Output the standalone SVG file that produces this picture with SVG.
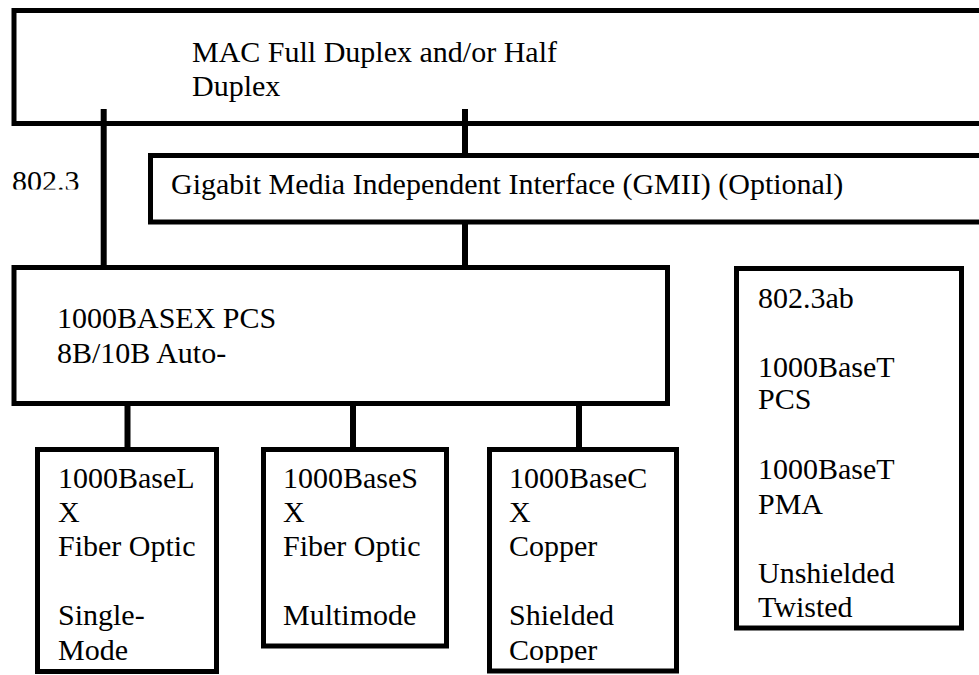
<svg xmlns="http://www.w3.org/2000/svg" width="979" height="675" viewBox="0 0 979 675">
<style>
.box{fill:#fff;stroke:#000;stroke-width:5}
.t{font-family:"Liberation Serif","Times New Roman",serif;font-size:30px;fill:#000}
.c{stroke:#000;stroke-width:6;fill:none}
</style>
<defs>
<clipPath id="clip8023"><rect x="0" y="150" width="100" height="39.5"/></clipPath>
<clipPath id="clipCX"><rect x="492" y="452" width="182" height="211"/></clipPath>
</defs>
<rect width="979" height="675" fill="#fff"/>
<g id="mac">
<rect class="box" x="14" y="10.5" width="1000" height="113"/>
<text class="t" x="192" y="62">MAC Full Duplex and/or Half</text>
<text class="t" x="192" y="96">Duplex</text>
</g>
<g id="label8023">
<text class="t" x="12" y="191" clip-path="url(#clip8023)">802.3</text>
</g>
<g id="gmii">
<rect class="box" x="150.5" y="155.5" width="900" height="66.5"/>
<text class="t" x="171" y="194">Gigabit Media Independent Interface (GMII) (Optional)</text>
</g>
<g id="pcs">
<rect class="box" x="14" y="267.5" width="653.5" height="136"/>
<text class="t" x="57" y="328">1000BASEX PCS</text>
<text class="t" x="57" y="363">8B/10B Auto-</text>
</g>
<g id="lx">
<rect class="box" x="37.5" y="449.5" width="179" height="222"/>
<text class="t" x="58" y="488">1000BaseL</text>
<text class="t" x="58" y="522">X</text>
<text class="t" x="58" y="556">Fiber Optic</text>
<text class="t" x="58" y="625">Single-</text>
<text class="t" x="58" y="660">Mode</text>
</g>
<g id="sx">
<rect class="box" x="263.5" y="449.5" width="183" height="196.5"/>
<text class="t" x="283" y="488">1000BaseS</text>
<text class="t" x="283" y="522">X</text>
<text class="t" x="283" y="556">Fiber Optic</text>
<text class="t" x="283" y="625">Multimode</text>
</g>
<g id="cx">
<rect class="box" x="489.5" y="449.5" width="187" height="221.5"/>
<text class="t" x="509" y="488">1000BaseC</text>
<text class="t" x="509" y="522">X</text>
<text class="t" x="509" y="556">Copper</text>
<text class="t" x="509" y="625">Shielded</text>
<text class="t" x="509" y="660" clip-path="url(#clipCX)">Copper</text>
</g>
<g id="t1000">
<rect class="box" x="736.5" y="268.5" width="225" height="359.5"/>
<text class="t" x="758" y="308">802.3ab</text>
<text class="t" x="758" y="377">1000BaseT</text>
<text class="t" x="758" y="409">PCS</text>
<text class="t" x="758" y="479">1000BaseT</text>
<text class="t" x="758" y="514">PMA</text>
<text class="t" x="758" y="583">Unshielded</text>
<text class="t" x="758" y="617">Twisted</text>
</g>
<g id="connectors">
<line class="c" x1="103.7" y1="109" x2="103.7" y2="270"/>
<line class="c" x1="465" y1="109" x2="465" y2="155"/>
<line class="c" x1="465" y1="222" x2="465" y2="270"/>
<line class="c" x1="127.5" y1="403" x2="127.5" y2="450"/>
<line class="c" x1="353" y1="403" x2="353" y2="450"/>
<line class="c" x1="579" y1="403" x2="579" y2="450"/>
</g>
</svg>
